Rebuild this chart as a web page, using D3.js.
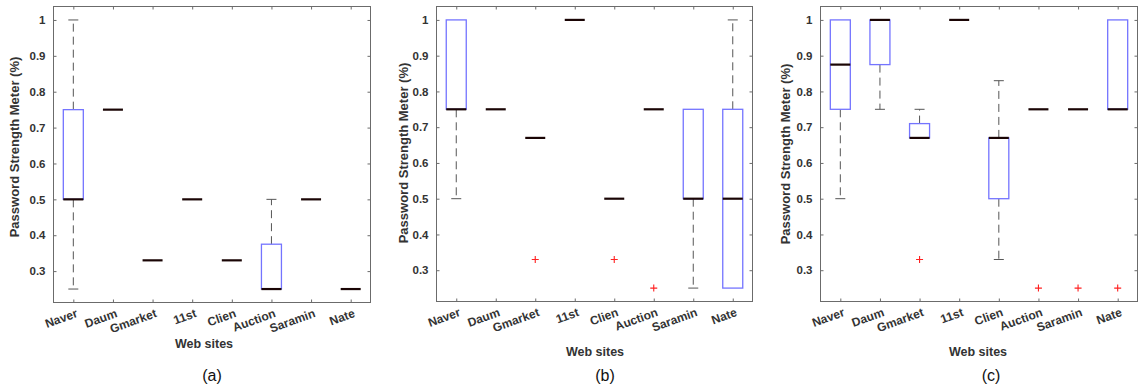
<!DOCTYPE html>
<html>
<head>
<meta charset="utf-8">
<script src="https://cdn.jsdelivr.net/npm/d3@7"></script>
<style>
  body { margin: 0; background: #fff; }
  svg { display: block; font-family: 'Liberation Sans', Arial, sans-serif; }
</style>
</head>
<body>
<svg width="1139" height="386"></svg>
<script>
;(function (d3) {
  var sites = ['Naver', 'Daum', 'Gmarket', '11st', 'Clien', 'Auction', 'Saramin', 'Nate']
  var yTicks = [0.3, 0.4, 0.5, 0.6, 0.7, 0.8, 0.9, 1]

  // panel (a)
  var aLow = [0.25, 0.75, 0.33, 0.5, 0.33, 0.25, 0.5, 0.25]
  var aQ1 = [0.5, 0.75, 0.33, 0.5, 0.33, 0.25, 0.5, 0.25]
  var aMed = [0.5, 0.75, 0.33, 0.5, 0.33, 0.25, 0.5, 0.25]
  var aQ3 = [0.75, 0.75, 0.33, 0.5, 0.33, 0.375, 0.5, 0.25]
  var aHigh = [1, 0.75, 0.33, 0.5, 0.33, 0.5, 0.5, 0.25]
  var aOut = [[], [], [], [], [], [], [], []]

  // panel (b)
  var bLow = [0.5, 0.75, 0.67, 1, 0.5, 0.75, 0.25, 0.25]
  var bQ1 = [0.75, 0.75, 0.67, 1, 0.5, 0.75, 0.5, 0.25]
  var bMed = [0.75, 0.75, 0.67, 1, 0.5, 0.75, 0.5, 0.5]
  var bQ3 = [1, 0.75, 0.67, 1, 0.5, 0.75, 0.75, 0.75]
  var bHigh = [1, 0.75, 0.67, 1, 0.5, 0.75, 0.75, 1]
  var bOut = [[], [], [0.33], [], [0.33], [0.25], [], []]

  // panel (c)
  var cLow = [0.5, 0.75, 0.67, 1, 0.33, 0.75, 0.75, 0.75]
  var cQ1 = [0.75, 0.875, 0.67, 1, 0.5, 0.75, 0.75, 0.75]
  var cMed = [0.875, 1, 0.67, 1, 0.67, 0.75, 0.75, 0.75]
  var cQ3 = [1, 1, 0.71, 1, 0.67, 0.75, 0.75, 1]
  var cHigh = [1, 1, 0.75, 1, 0.83, 0.75, 0.75, 1]
  var cOut = [[], [], [0.33], [], [], [0.25], [0.25], [0.25]]

  var panels = [
    {cap: '(a)', low: aLow, q1: aQ1, med: aMed, q3: aQ3, high: aHigh, out: aOut,
      l: 53.5, r: 370.5, t: 6.5, b: 302.5, ylabX: 14, ylabY: 147, wsX: 204, wsY: 348, capX: 212, capY: 381},
    {cap: '(b)', low: bLow, q1: bQ1, med: bMed, q3: bQ3, high: bHigh, out: bOut,
      l: 436.5, r: 752.5, t: 6.5, b: 301.5, ylabX: 403, ylabY: 153, wsX: 595, wsY: 356, capX: 605, capY: 381},
    {cap: '(c)', low: cLow, q1: cQ1, med: cMed, q3: cQ3, high: cHigh, out: cOut,
      l: 820.5, r: 1137.5, t: 6.5, b: 301.5, ylabX: 785, ylabY: 154, wsX: 978, wsY: 356, capX: 991, capY: 381}
  ]

  var svg = d3.select('svg')
  var axisColor = '#6b6b6b'
  var textColor = '#333'

  panels.forEach(function (p) {
    var g = svg.append('g')

    var x = d3.scaleLinear().domain([0.5, sites.length + 0.5]).range([p.l, p.r])
    var y = d3.scaleLinear().domain([0.2125, 1.0375]).range([p.b, p.t])
    var boxW = 20
    var capW = 10

    // inward ticks, all four sides
    var axL = g.append('g').attr('transform', 'translate(' + p.l + ',0)')
      .call(d3.axisLeft(y).tickValues(yTicks).tickSizeInner(-3).tickSizeOuter(0).tickPadding(8)
        .tickFormat(function (d) { return d === 1 ? '1' : d.toFixed(1) }))
    var axR = g.append('g').attr('transform', 'translate(' + p.r + ',0)')
      .call(d3.axisRight(y).tickValues(yTicks).tickSizeInner(-3).tickSizeOuter(0).tickFormat(''))
    var axB = g.append('g').attr('transform', 'translate(0,' + p.b + ')')
      .call(d3.axisBottom(x).tickValues(d3.range(1, sites.length + 1)).tickSizeInner(-3).tickSizeOuter(0).tickFormat(''))
    var axT = g.append('g').attr('transform', 'translate(0,' + p.t + ')')
      .call(d3.axisTop(x).tickValues(d3.range(1, sites.length + 1)).tickSizeInner(-3).tickSizeOuter(0).tickFormat(''))

    ;[axL, axR, axB, axT].forEach(function (a) {
      a.select('.domain').remove()
      a.selectAll('line').attr('stroke', axisColor)
    })
    axL.selectAll('text')
      .attr('fill', textColor)
      .style('font-size', '11.5px')
      .style('font-weight', 'bold')

    g.append('rect')
      .attr('x', p.l).attr('y', p.t)
      .attr('width', p.r - p.l).attr('height', p.b - p.t)
      .attr('fill', 'none').attr('stroke', axisColor).attr('stroke-width', 1)

    // x tick labels, rotated
    g.selectAll('text.site')
      .data(sites)
      .enter()
      .append('text')
      .attr('class', 'site')
      .attr('text-anchor', 'end')
      .attr('transform', function (d, i) {
        return 'translate(' + (x(i + 1) + 5) + ',' + (p.b + 14) + ') rotate(-20)'
      })
      .attr('fill', textColor)
      .style('font-size', '12px')
      .style('font-weight', 'bold')
      .text(function (d) { return d })

    g.append('text')
      .attr('x', p.wsX).attr('y', p.wsY)
      .attr('text-anchor', 'middle')
      .attr('fill', textColor)
      .style('font-size', '12.5px')
      .style('font-weight', 'bold')
      .text('Web sites')

    g.append('text')
      .attr('transform', 'translate(' + (p.ylabX + 4.5) + ',' + p.ylabY + ') rotate(-90)')
      .attr('text-anchor', 'middle')
      .attr('fill', textColor)
      .style('font-size', '13px')
      .style('font-weight', 'bold')
      .text('Password Strength Meter (%)')

    g.append('text')
      .attr('x', p.capX).attr('y', p.capY)
      .attr('text-anchor', 'middle')
      .attr('fill', '#111')
      .style('font-size', '16px')
      .text(p.cap)

    // boxes
    sites.forEach(function (s, i) {
      var cx = x(i + 1)
      var bg = g.append('g')
      if (p.high[i] > p.q3[i]) {
        bg.append('line')
          .attr('x1', cx).attr('x2', cx).attr('y1', y(p.q3[i])).attr('y2', y(p.high[i]))
          .attr('stroke', '#555').attr('stroke-dasharray', '8,5')
        bg.append('line')
          .attr('x1', cx - capW / 2).attr('x2', cx + capW / 2).attr('y1', y(p.high[i])).attr('y2', y(p.high[i]))
          .attr('stroke', '#555')
      }
      if (p.low[i] < p.q1[i]) {
        bg.append('line')
          .attr('x1', cx).attr('x2', cx).attr('y1', y(p.q1[i])).attr('y2', y(p.low[i]))
          .attr('stroke', '#555').attr('stroke-dasharray', '8,5')
        bg.append('line')
          .attr('x1', cx - capW / 2).attr('x2', cx + capW / 2).attr('y1', y(p.low[i])).attr('y2', y(p.low[i]))
          .attr('stroke', '#555')
      }
      if (p.q3[i] > p.q1[i]) {
        bg.append('rect')
          .attr('x', cx - boxW / 2).attr('y', y(p.q3[i]))
          .attr('width', boxW).attr('height', y(p.q1[i]) - y(p.q3[i]))
          .attr('fill', 'none').attr('stroke', '#7474ff').attr('stroke-width', 1.3)
      }
      bg.append('line')
        .attr('x1', cx - boxW / 2).attr('x2', cx + boxW / 2)
        .attr('y1', y(p.med[i])).attr('y2', y(p.med[i]))
        .attr('stroke', '#1a0505').attr('stroke-width', 2.2)
      p.out[i].forEach(function (v) {
        bg.append('path')
          .attr('d', 'M' + (cx - 3.5) + ',' + y(v) + 'h7M' + cx + ',' + (y(v) - 3.5) + 'v7')
          .attr('stroke', '#ff2020').attr('stroke-width', 1.1)
      })
    })
  })
})(window.d3)
</script>
</body>
</html>
